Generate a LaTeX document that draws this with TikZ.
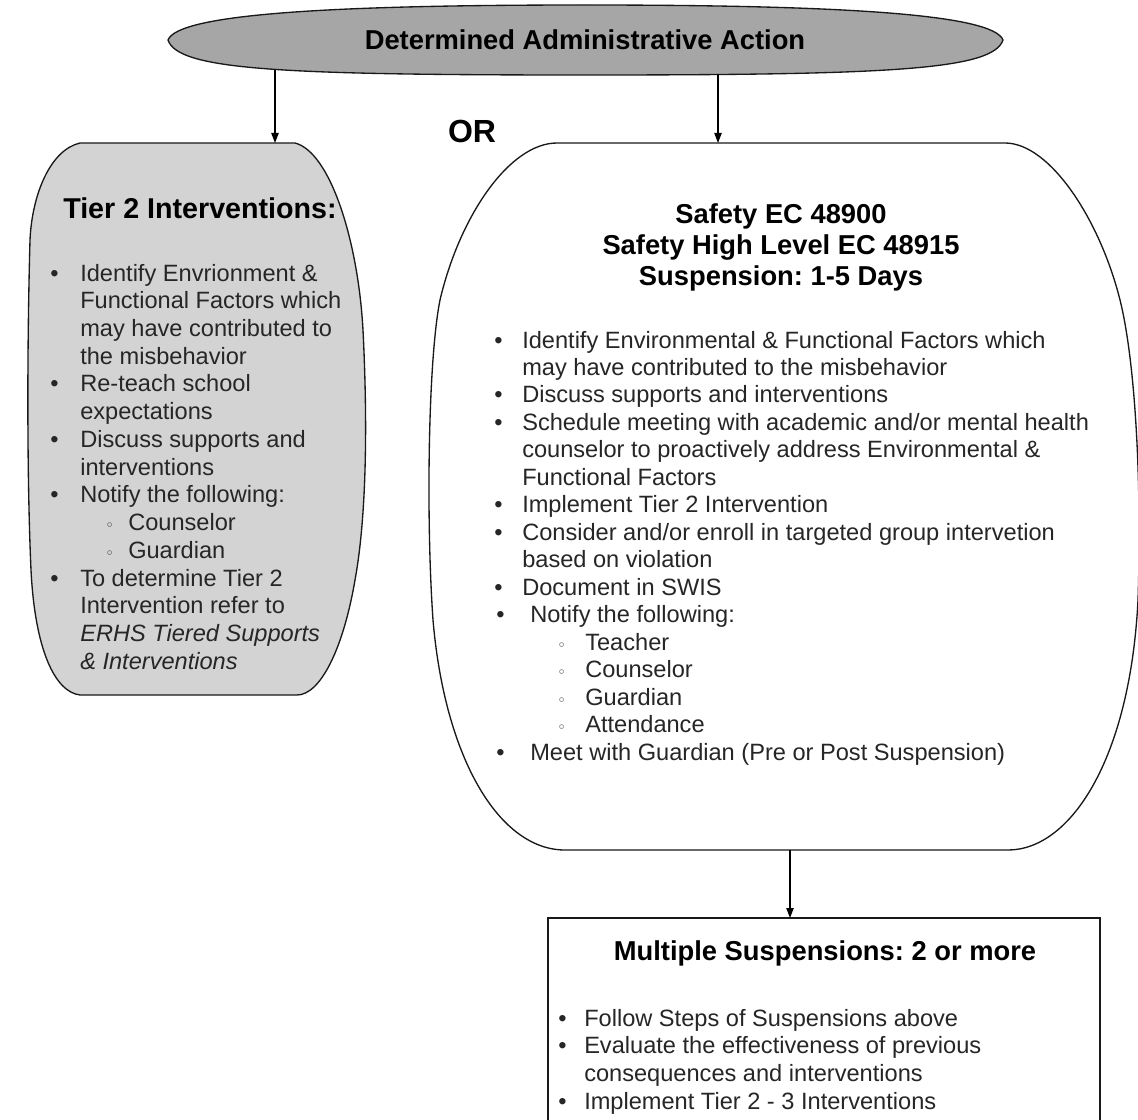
\documentclass[tikz,border=0pt]{standalone}
\usepackage{fontspec}
\setmainfont{Liberation Sans}
\newfontfamily\dv{DejaVu Sans}
\usetikzlibrary{arrows.meta}
\frenchspacing
\definecolor{ellgray}{HTML}{A6A6A6}
\definecolor{boxgray}{HTML}{D3D3D3}
\definecolor{bodytext}{HTML}{262626}
\newcommand\blt[2]{\makebox[#1][l]{\textbullet}#2\par}
\newcommand\cnt[2]{\hspace*{#1}#2\par}
\newcommand\sbl[3]{\hspace*{#1}\makebox[#2][l]{{\dv\fontsize{11}{11}\selectfont ◦}}#3\par}
\tikzset{
  shapeline/.style={draw=black!90, line width=1pt},
  conn/.style={draw=black, line width=0.9pt, -{Triangle[length=7.5pt,width=5.5pt]}},
  titletext/.style={inner sep=0pt, font=\bfseries\fontsize{20.5}{24}\selectfont, text=black},
  bodyblock/.style={inner sep=0pt, anchor=base west, text=bodytext},
}
\begin{document}
\begin{tikzpicture}[x=0.75pt,y=-0.75pt]
\useasboundingbox[fill=white] (0,0) rectangle (1138,1120);

% top ellipse-like shape
\draw[shapeline, fill=ellgray] (168,40) .. controls (178,14) and (330,5) .. (585,5)
  .. controls (840,5) and (993,14) .. (1003,40)
  .. controls (993,70) and (890,75) .. (585,75)
  .. controls (280,75) and (178,70) .. (168,40) -- cycle;
\node[titletext, anchor=base] (top) at (585,50) {Determined Administrative Action};
\coordinate (e1) at (275,70);
\coordinate (e2) at (718,74.5);

% left shape
\draw[shapeline, fill=boxgray] (80,143) -- (295,143)
  .. controls (330,152) and (358,240) .. (363,330)
  .. controls (368,430) and (366,520) .. (355,580)
  .. controls (343,650) and (320,695) .. (297,695)
  -- (80,695)
  .. controls (55,692) and (35,650) .. (31,570)
  .. controls (27,480) and (27,350) .. (30,240)
  .. controls (32,195) and (50,150) .. (80,143) -- cycle;
\coordinate (ltop) at (275,143);

% right big shape
\draw[shapeline, fill=white] (557,143) -- (1005,143)
  .. controls (1050,143) and (1100,220) .. (1120,300)
  .. controls (1135,360) and (1142,480) .. (1138,600)
  .. controls (1130,760) and (1070,850) .. (1008,850)
  -- (565,850)
  .. controls (500,850) and (445,760) .. (433,620)
  .. controls (426,520) and (428,360) .. (440,300)
  .. controls (460,215) and (510,143) .. (557,143) -- cycle;
\coordinate (rtop) at (718,143);
\coordinate (rbot) at (790,850);

% bottom rectangle
\draw[shapeline, fill=white] (548,918) rectangle (1100,1130);
\coordinate (mtop) at (790,918);

% connectors
\draw[conn] (e1) -- (ltop);
\draw[conn] (e2) -- (rtop);
\draw[conn] (rbot) -- (mtop);

% OR
\node[inner sep=0pt, anchor=base, font=\bfseries\fontsize{24}{28}\selectfont] (or) at (472,142.5) {OR};

% left texts
\node[inner sep=0pt, anchor=base west, font=\bfseries\fontsize{21.5}{25}\selectfont] (t2title) at (63,219) {Tier 2 Interventions:};
\node[bodyblock] (t2body) at (50,281) {\parbox[t]{260pt}{\fontsize{17.7}{20.8}\selectfont\raggedright
\blt{22.5pt}{Identify Envrionment \&}
\cnt{22.5pt}{Functional Factors which}
\cnt{22.5pt}{may have contributed to}
\cnt{22.5pt}{the misbehavior}
\blt{22.5pt}{Re-teach school}
\cnt{22.5pt}{expectations}
\blt{22.5pt}{Discuss supports and}
\cnt{22.5pt}{interventions}
\blt{22.5pt}{Notify the following:}
\sbl{41.25pt}{17.25pt}{Counselor}
\sbl{41.25pt}{17.25pt}{Guardian}
\blt{22.5pt}{To determine Tier 2}
\cnt{22.5pt}{Intervention refer to}
\cnt{22.5pt}{\textit{ERHS Tiered Supports}}
\cnt{22.5pt}{\textit{\& Interventions}}}};

% right texts
\node[titletext, anchor=base] (s1) at (781,223) {Safety EC 48900};
\node[titletext, anchor=base] (s2) at (781,254) {Safety High Level EC 48915};
\node[titletext, anchor=base] (s3) at (781,285) {Suspension: 1-5 Days};
\node[bodyblock] (sbody) at (494,348) {\parbox[t]{500pt}{\fontsize{17.7}{20.6}\selectfont\raggedright
\blt{21pt}{Identify Environmental \& Functional Factors which}
\cnt{21pt}{may have contributed to the misbehavior}
\blt{21pt}{Discuss supports and interventions}
\blt{21pt}{Schedule meeting with academic and/or mental health}
\cnt{21pt}{counselor to proactively address Environmental \&}
\cnt{21pt}{Functional Factors}
\blt{21pt}{Implement Tier 2 Intervention}
\blt{21pt}{Consider and/or enroll in targeted group intervetion}
\cnt{21pt}{based on violation}
\blt{21pt}{Document in SWIS}
\hspace*{1.5pt}\blt{25.5pt}{Notify the following:}
\sbl{47.25pt}{21pt}{Teacher}
\sbl{47.25pt}{21pt}{Counselor}
\sbl{47.25pt}{21pt}{Guardian}
\sbl{47.25pt}{21pt}{Attendance}
\hspace*{1.5pt}\blt{25.5pt}{Meet with Guardian (Pre or Post Suspension)}}};

% multiple suspensions
\node[titletext, anchor=base] (mtitle) at (825,960) {Multiple Suspensions: 2 or more};
\node[bodyblock] (mbody) at (558,1026) {\parbox[t]{400pt}{\fontsize{17.7}{20.8}\selectfont\raggedright
\blt{19.5pt}{Follow Steps of Suspensions above}
\blt{19.5pt}{Evaluate the effectiveness of previous}
\cnt{19.5pt}{consequences and interventions}
\blt{19.5pt}{Implement Tier 2 - 3 Interventions}}};
\end{tikzpicture}
\end{document}
